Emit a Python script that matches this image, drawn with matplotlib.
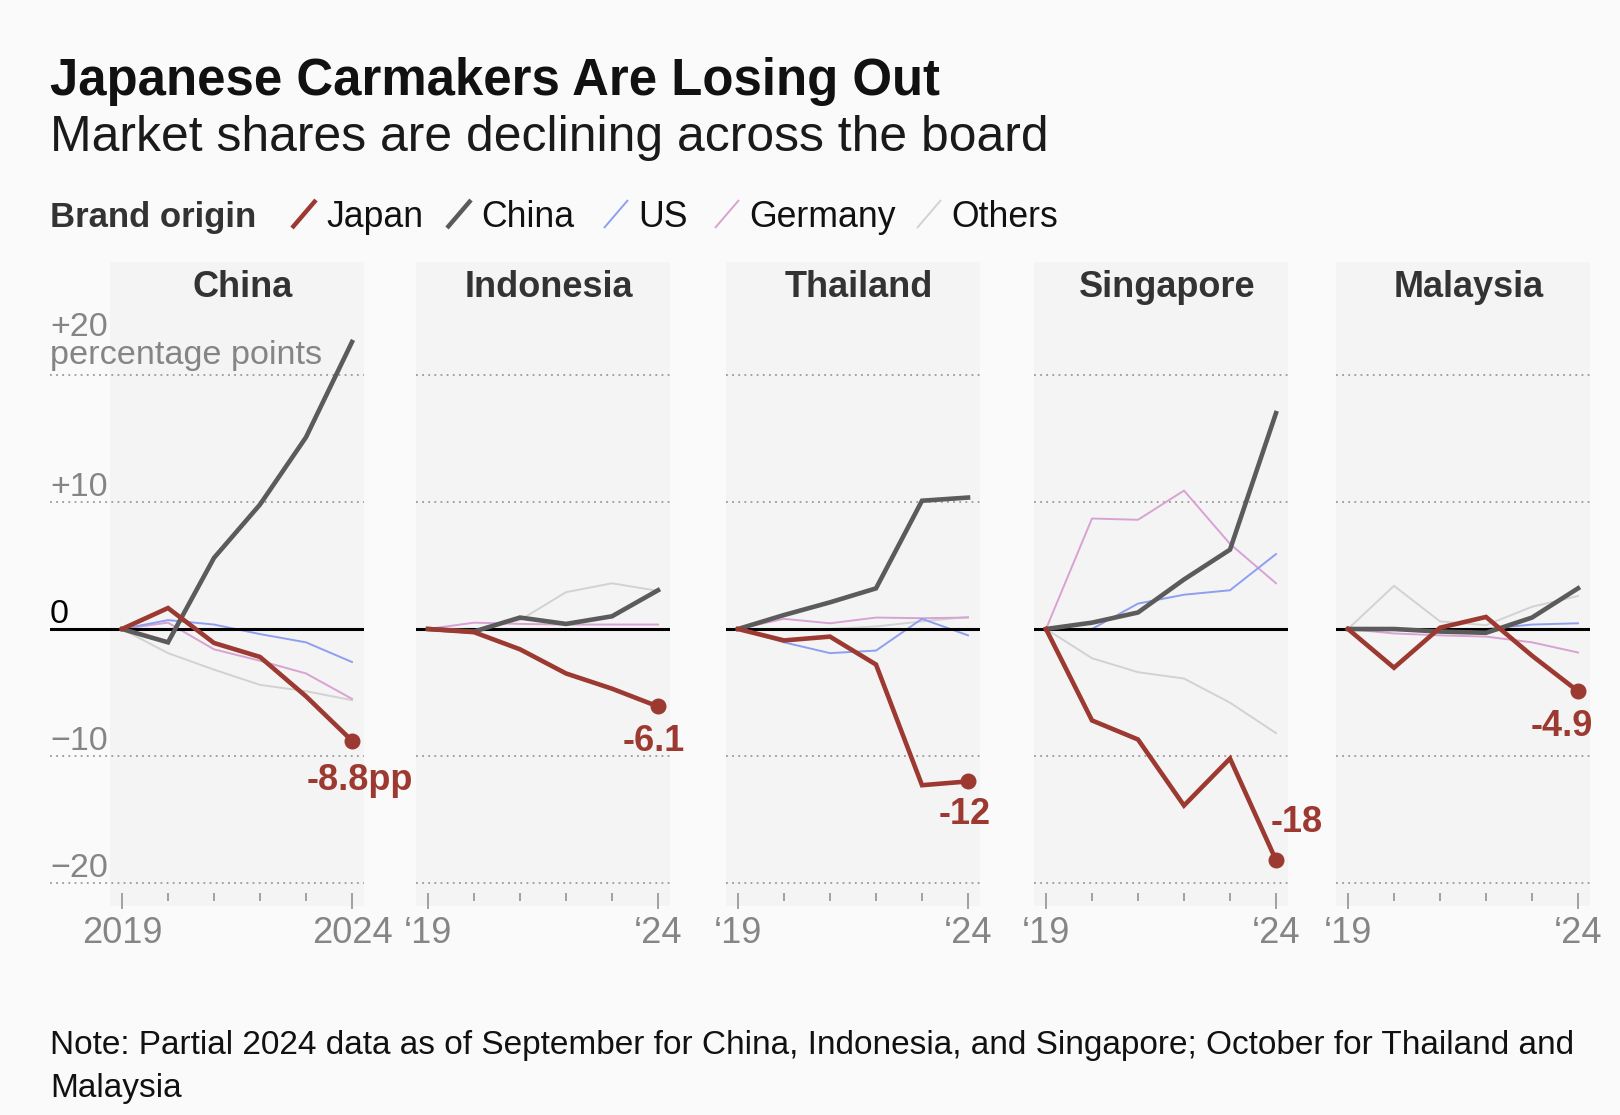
import matplotlib
matplotlib.use("Agg")
import matplotlib.pyplot as plt
from matplotlib.patches import Rectangle
from matplotlib.lines import Line2D
import matplotlib.transforms as mtransforms

# ---------------- data ----------------
years = [2019, 2020, 2021, 2022, 2023, 2024]
countries = ["China", "Indonesia", "Thailand", "Singapore", "Malaysia"]
year_labels_first = ["2019", "2024"]
year_labels_other = ["\u201819", "\u201824"]

japan = {
    "China":     [0, 1.65, -1.1, -2.2, -5.3, -8.8],
    "Indonesia": [0, -0.25, -1.6, -3.5, -4.7, -6.1],
    "Thailand":  [0, -0.9, -0.6, -2.8, -12.3, -12.0],
    "Singapore": [0, -7.2, -8.7, -13.9, -10.2, -18.2],
    "Malaysia":  [0, -3.05, 0.1, 0.95, -2.1, -4.9],
}
china = {
    "China":     [0, -1.05, 5.6, 9.8, 15.1, 22.6],
    "Indonesia": [0, -0.2, 0.9, 0.4, 1.0, 3.05],
    "Thailand":  [0, 1.1, 2.1, 3.2, 10.1, 10.35],
    "Singapore": [0, 0.5, 1.3, 3.9, 6.25, 17.0],
    "Malaysia":  [0, 0.0, -0.2, -0.3, 0.9, 3.2],
}
us = {
    "China":     [0, 0.7, 0.35, -0.4, -1.05, -2.6],
    "Indonesia": [0, 0.0, -0.05, -0.05, -0.05, -0.05],
    "Thailand":  [0, -1.05, -1.9, -1.7, 0.8, -0.5],
    "Singapore": [0, 0.0, 2.0, 2.7, 3.05, 5.9],
    "Malaysia":  [0, 0.0, -0.1, 0.0, 0.35, 0.45],
}
germany = {
    "China":     [0, 0.5, -1.6, -2.5, -3.5, -5.5],
    "Indonesia": [0, 0.5, 0.4, 0.35, 0.35, 0.35],
    "Thailand":  [0, 0.8, 0.45, 0.9, 0.85, 0.9],
    "Singapore": [0, 8.7, 8.6, 10.9, 6.7, 3.6],
    "Malaysia":  [0, -0.35, -0.5, -0.6, -1.05, -1.85],
}
others = {
    "China":     [0, -1.9, -3.2, -4.4, -4.9, -5.6],
    "Indonesia": [0, -0.1, 0.7, 2.9, 3.6, 3.0],
    "Thailand":  [0, 0.0, 0.0, 0.2, 0.6, 0.95],
    "Singapore": [0, -2.3, -3.4, -3.9, -5.8, -8.2],
    "Malaysia":  [0, 3.4, 0.6, 0.3, 1.75, 2.6],
}
end_labels = {"China": "-8.8pp", "Indonesia": "-6.1", "Thailand": "-12",
              "Singapore": "-18", "Malaysia": "-4.9"}
y_gridlines = [-20, -10, 10, 20]
y_labels = {20: "+20", 10: "+10", 0: "0", -10: "\u221210", -20: "\u221220"}

legend_names = ["Japan", "China", "US", "Germany", "Others"]

title = "Japanese Carmakers Are Losing Out"
subtitle = "Market shares are declining across the board"
note_line1 = "Note: Partial 2024 data as of September for China, Indonesia, and Singapore; October for Thailand and"
note_line2 = "Malaysia"

# ---------------- style ----------------
C_JAPAN = "#9c3a31"
C_CHINA = "#5b5b5b"
C_US = "#8f9ff0"
C_GER = "#d9a2d3"
C_OTH = "#d2d2d2"
BG = "#fafafa"
SHADE = "#f4f4f4"
GRAY_TXT = "#858585"

W, H, DPI = 1620, 1115, 100
plt.rcParams["font.family"] = ["Liberation Sans", "DejaVu Sans"]

fig = plt.figure(figsize=(W / DPI, H / DPI), dpi=DPI, facecolor=BG)


def fx(x):
    return x / W


def fy(y):
    return 1 - y / H


# titles
fig.text(fx(50), fy(95), title, fontsize=36.6, fontweight="bold", color="#111111", va="baseline")
fig.text(fx(50), fy(151), subtitle, fontsize=35.9, color="#1a1a1a", va="baseline")

# legend
fig.text(fx(50), fy(227), "Brand origin", fontsize=25, fontweight="bold", color="#333333", va="baseline")
leg_slash_x = [292, 447, 604, 715, 917]
leg_colors = [C_JAPAN, C_CHINA, C_US, C_GER, C_OTH]
leg_lw = [3.2, 3.2, 1.4, 1.4, 1.4]
for xs, name, col, lw in zip(leg_slash_x, legend_names, leg_colors, leg_lw):
    fig.add_artist(Line2D([fx(xs), fx(xs + 24)], [fy(228), fy(200)], color=col, lw=lw,
                          solid_capstyle="butt", transform=fig.transFigure))
    fig.text(fx(xs + 34), fy(227), name, fontsize=25.7, color="#111111", va="baseline")

# panels
ZERO_Y = 629
PX_PER_UNIT = 12.7
AX_TOP = 262
AX_BOT = 893
PX_PER_YEAR = 46
PAD_X = 12
tick_left = [122, 428, 738, 1046, 1348]
ymax = (ZERO_Y - AX_TOP) / PX_PER_UNIT
ymin = -(AX_BOT - ZERO_Y) / PX_PER_UNIT

label_style = {
    "China": (61, -40, "right"),
    "Indonesia": (27, -35, "right"),
    "Thailand": (23, -33, "right"),
    "Singapore": (-5, 38, "left"),
    "Malaysia": (15, -35, "right"),
}

for i, c in enumerate(countries):
    x0 = tick_left[i]
    left = 50 if i == 0 else x0 - PAD_X
    right = x0 + 5 * PX_PER_YEAR + PAD_X
    ax = fig.add_axes([fx(left), fy(AX_BOT), (right - left) / W, (AX_BOT - AX_TOP) / H])
    ax.set_xlim(2019 - (x0 - left) / PX_PER_YEAR, 2024 + PAD_X / PX_PER_YEAR)
    ax.set_ylim(ymin, ymax)
    ax.set_facecolor("none")
    for s in ax.spines.values():
        s.set_visible(False)
    ax.add_patch(Rectangle((2019 - PAD_X / PX_PER_YEAR, ymin - 1.0),
                           (5 * PX_PER_YEAR + 2 * PAD_X) / PX_PER_YEAR, ymax - ymin + 1.0,
                           facecolor=SHADE, lw=0, zorder=0, clip_on=False))
    for g in y_gridlines:
        ax.axhline(g, color="#9a9a9a", lw=1.3, ls=(0, (1, 2.4)), zorder=1, dash_capstyle="butt")

    ax.plot(years, others[c], color=C_OTH, lw=1.4, zorder=2)
    ax.plot(years, germany[c], color=C_GER, lw=1.4, zorder=2.1)
    ax.plot(years, us[c], color=C_US, lw=1.4, zorder=2.2)
    ax.axhline(0, color="black", lw=2.2, zorder=2.5)
    ax.plot(years, china[c], color=C_CHINA, lw=3.3, zorder=3, solid_joinstyle="miter")
    ax.plot(years, japan[c], color=C_JAPAN, lw=3.3, zorder=4, solid_joinstyle="miter")
    ax.plot([years[-1]], [japan[c][-1]], "o", color=C_JAPAN, ms=10.5, zorder=5)

    dx, dy, ha = label_style[c]
    ax.annotate(end_labels[c], (years[-1], japan[c][-1]), xytext=(dx, dy),
                textcoords="offset pixels", ha=ha, va="center", fontsize=26,
                fontweight="bold", color=C_JAPAN, zorder=6, annotation_clip=False)

    # panel title
    ax.text(2021.5 + 6 / PX_PER_YEAR, (ZERO_Y - 297) / PX_PER_UNIT, c, ha="center", va="baseline",
            fontsize=26, fontweight="bold", color="#333333")

    # x ticks
    ax.set_xticks([years[0], years[-1]])
    ax.set_xticklabels(year_labels_first if i == 0 else year_labels_other)
    ax.set_xticks(years[1:-1], minor=True)
    ax.tick_params(axis="x", which="major", direction="out", length=11.5, width=1.1,
                   color="#8a8a8a", labelsize=26, labelcolor=GRAY_TXT, pad=5)
    ax.tick_params(axis="x", which="minor", direction="out", length=5.8, width=1.1,
                   color="#8a8a8a")
    ax.tick_params(axis="y", left=False, labelleft=False)

    if i == 0:
        tr = ax.get_yaxis_transform()
        for v, lab in y_labels.items():
            off = 39 if v == 20 else 6
            t = mtransforms.offset_copy(tr, fig=fig, x=0, y=off, units="dots")
            ax.text(0, v, lab, transform=t, ha="left", va="baseline", fontsize=24.5,
                    color="black" if v == 0 else GRAY_TXT)
        t = mtransforms.offset_copy(tr, fig=fig, x=0, y=11, units="dots")
        ax.text(0, 20, "percentage points", transform=t, ha="left", va="baseline",
                fontsize=24.7, color=GRAY_TXT)

# note
fig.text(fx(50), fy(1054), note_line1, fontsize=24, color="#111111", va="baseline")
fig.text(fx(50), fy(1097), note_line2, fontsize=24, color="#111111", va="baseline")

fig.savefig("out.png", dpi=DPI, facecolor=BG)
